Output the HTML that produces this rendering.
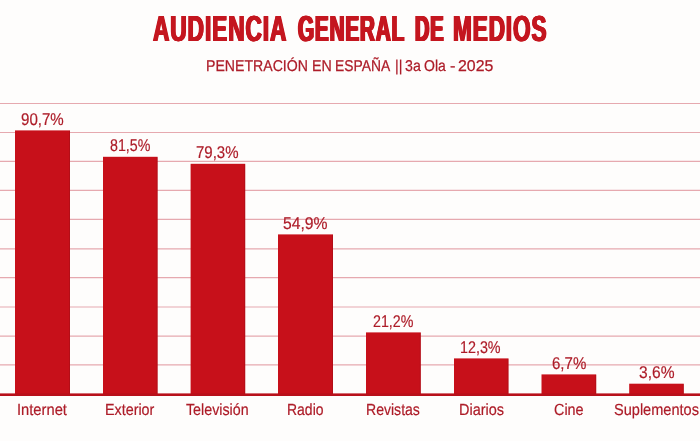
<!DOCTYPE html>
<html><head><meta charset="utf-8">
<style>
html,body{margin:0;padding:0;}
body{width:700px;height:441px;background:#fefdfc;position:relative;overflow:hidden;font-family:"Liberation Sans",sans-serif;}
svg{position:absolute;left:0;top:0;}
.t{position:absolute;white-space:nowrap;transform-origin:0 0;line-height:1;color:#ad1c28;}
#L{position:absolute;left:0;top:0;width:700px;height:441px;will-change:transform;text-rendering:geometricPrecision;}
.title{font-weight:bold;color:#c4161f;}
.sub{-webkit-text-stroke:0.25px #ad1c28;}
.cat,.val{-webkit-text-stroke:0.2px #ad1c28;}
</style></head><body>
<svg width="700" height="441" viewBox="0 0 700 441">
<g stroke="#e6a9af" stroke-width="1.2" fill="none"><line x1="0" x2="700" y1="103.50" y2="103.50"/><line x1="0" x2="700" y1="132.50" y2="132.50"/><line x1="0" x2="700" y1="161.40" y2="161.40"/><line x1="0" x2="700" y1="190.40" y2="190.40"/><line x1="0" x2="700" y1="219.40" y2="219.40"/><line x1="0" x2="700" y1="248.90" y2="248.90"/><line x1="0" x2="700" y1="277.60" y2="277.60"/><line x1="0" x2="700" y1="307.00" y2="307.00"/><line x1="0" x2="700" y1="336.20" y2="336.20"/><line x1="0" x2="700" y1="364.80" y2="364.80"/></g>
<g fill="#c7101a"><rect x="15.0" y="130.4" width="55.0" height="265.6"/><rect x="103.0" y="156.8" width="54.6" height="239.2"/><rect x="190.6" y="163.8" width="54.6" height="232.2"/><rect x="278.0" y="234.4" width="55.0" height="161.6"/><rect x="366.0" y="332.4" width="54.8" height="63.6"/><rect x="454.0" y="358.4" width="54.5" height="37.6"/><rect x="541.5" y="374.4" width="54.7" height="21.6"/><rect x="629.2" y="383.7" width="54.6" height="12.3"/></g>
<g fill="#8f0c14" opacity="0.35"><rect x="69.0" y="130.9" width="1" height="263.6"/><rect x="156.6" y="157.3" width="1" height="237.2"/><rect x="244.2" y="164.3" width="1" height="230.2"/><rect x="332.0" y="234.9" width="1" height="159.6"/><rect x="419.8" y="332.9" width="1" height="61.6"/><rect x="507.5" y="358.9" width="1" height="35.6"/><rect x="595.2" y="374.9" width="1" height="19.6"/><rect x="682.8" y="384.2" width="1" height="10.3"/></g>
<rect x="0" y="393.4" width="700" height="2.6" fill="#b8101a"/>
</svg>
<div id="L">
<div class="t title" style="left:152.89px;top:10.92px;font-size:36.19px;transform:scaleX(0.6275);letter-spacing:0.04em;text-shadow:0.0322em 0 0 currentColor,-0.0322em 0 0 currentColor,0.0161em 0 0 currentColor,-0.0161em 0 0 currentColor;">AUDIENCIA</div>
<div class="t title" style="left:298.09px;top:10.92px;font-size:36.19px;transform:scaleX(0.5724);letter-spacing:0.04em;text-shadow:0.0424em 0 0 currentColor,-0.0424em 0 0 currentColor,0.0212em 0 0 currentColor,-0.0212em 0 0 currentColor;">GENERAL</div>
<div class="t title" style="left:414.73px;top:10.92px;font-size:36.19px;transform:scaleX(0.5512);letter-spacing:0.04em;text-shadow:0.0468em 0 0 currentColor,-0.0468em 0 0 currentColor,0.0234em 0 0 currentColor,-0.0234em 0 0 currentColor;">DE</div>
<div class="t title" style="left:453.12px;top:10.92px;font-size:36.19px;transform:scaleX(0.6238);letter-spacing:0.04em;text-shadow:0.0328em 0 0 currentColor,-0.0328em 0 0 currentColor,0.0164em 0 0 currentColor,-0.0164em 0 0 currentColor;">MEDIOS</div>
<div class="t sub" style="left:206.10px;top:59.11px;font-size:15.7px;transform:scaleX(0.8994);">PENETRACIÓN</div>
<div class="t sub" style="left:312.02px;top:59.11px;font-size:15.7px;transform:scaleX(0.9088);">EN</div>
<div class="t sub" style="left:334.91px;top:59.11px;font-size:15.7px;transform:scaleX(0.8820);">ESPAÑA</div>
<div class="t sub" style="left:394.88px;top:59.11px;font-size:15.7px;transform:scaleX(0.8980);">||</div>
<div class="t sub" style="left:404.55px;top:59.11px;font-size:15.7px;transform:scaleX(0.9034);">3a</div>
<div class="t sub" style="left:424.43px;top:59.11px;font-size:15.7px;transform:scaleX(0.8928);">Ola</div>
<div class="t sub" style="left:449.84px;top:59.11px;font-size:15.7px;transform:scaleX(1.0411);">-</div>
<div class="t sub" style="left:458.05px;top:59.11px;font-size:15.7px;transform:scaleX(1.0126);">2025</div>
<div class="t val" style="left:20.67px;top:111.05px;font-size:17.01px;transform:scaleX(0.8871);">90,7%</div>
<div class="t val" style="left:110.29px;top:137.05px;font-size:17.01px;transform:scaleX(0.8374);">81,5%</div>
<div class="t val" style="left:196.17px;top:144.05px;font-size:17.01px;transform:scaleX(0.8823);">79,3%</div>
<div class="t val" style="left:283.13px;top:215.05px;font-size:17.01px;transform:scaleX(0.9252);">54,9%</div>
<div class="t val" style="left:372.89px;top:313.05px;font-size:17.01px;transform:scaleX(0.8376);">21,2%</div>
<div class="t val" style="left:460.14px;top:339.05px;font-size:17.01px;transform:scaleX(0.8423);">12,3%</div>
<div class="t val" style="left:552.07px;top:355.05px;font-size:17.01px;transform:scaleX(0.8851);">6,7%</div>
<div class="t val" style="left:639.12px;top:364.05px;font-size:17.01px;transform:scaleX(0.9158);">3,6%</div>
<div class="t cat" style="left:16.67px;top:401.90px;font-size:16.13px;transform:scaleX(0.9137);">Internet</div>
<div class="t cat" style="left:105.19px;top:401.90px;font-size:16.13px;transform:scaleX(0.8894);">Exterior</div>
<div class="t cat" style="left:186.27px;top:401.90px;font-size:16.13px;transform:scaleX(0.8847);">Televisión</div>
<div class="t cat" style="left:286.83px;top:401.90px;font-size:16.13px;transform:scaleX(0.8675);">Radio</div>
<div class="t cat" style="left:366.22px;top:401.90px;font-size:16.13px;transform:scaleX(0.8722);">Revistas</div>
<div class="t cat" style="left:458.97px;top:401.90px;font-size:16.13px;transform:scaleX(0.8982);">Diarios</div>
<div class="t cat" style="left:553.73px;top:401.90px;font-size:16.13px;transform:scaleX(0.8945);">Cine</div>
<div class="t cat" style="left:613.94px;top:401.90px;font-size:16.13px;transform:scaleX(0.9033);">Suplementos</div>
</div>
</body></html>
